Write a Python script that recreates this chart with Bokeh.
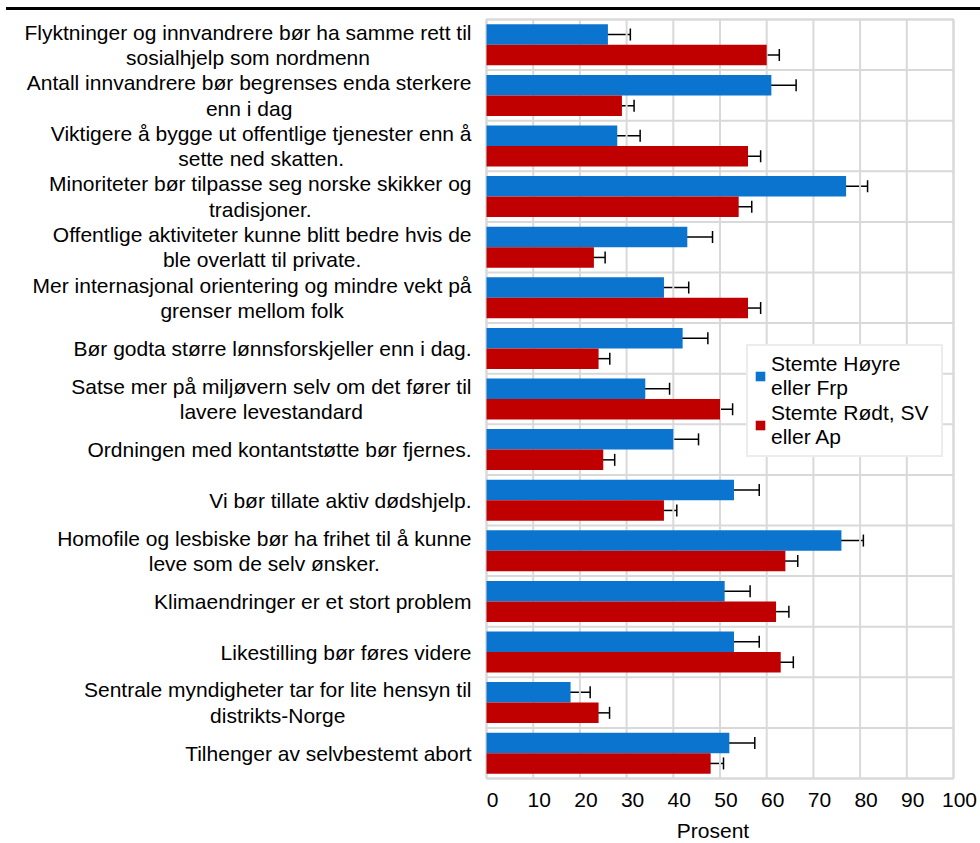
from bokeh.plotting import figure
from bokeh.models import (ColumnDataSource, Range1d, Whisker, TeeHead, Legend,
                          LegendItem, Div)
from bokeh.layouts import column
from bokeh.embed import file_html
from bokeh.resources import INLINE

categories = [
    "Flyktninger og innvandrere bør ha samme rett til\nsosialhjelp som nordmenn",
    "Antall innvandrere bør begrenses enda sterkere\nenn i dag",
    "Viktigere å bygge ut offentlige tjenester enn å\nsette ned skatten.",
    "Minoriteter bør tilpasse seg norske skikker og\ntradisjoner.",
    "Offentlige aktiviteter kunne blitt bedre hvis de\nble overlatt til private.",
    "Mer internasjonal orientering og mindre vekt på\ngrenser mellom folk",
    "Bør godta større lønnsforskjeller enn i dag.",
    "Satse mer på miljøvern selv om det fører til\nlavere levestandard",
    "Ordningen med kontantstøtte bør fjernes.",
    "Vi bør tillate aktiv dødshjelp.",
    "Homofile og lesbiske bør ha frihet til å kunne\nleve som de selv ønsker.",
    "Klimaendringer er et stort problem",
    "Likestilling bør føres videre",
    "Sentrale myndigheter tar for lite hensyn til\ndistrikts-Norge",
    "Tilhenger av selvbestemt abort",
]
hoyre_frp = [26, 61, 28, 77, 43, 38, 42, 34, 40, 53, 76, 51, 53, 18, 52]
hoyre_frp_err = [4.8, 5.3, 4.9, 4.6, 5.4, 5.3, 5.4, 5.2, 5.4, 5.4, 4.7, 5.45, 5.4, 4.2, 5.45]
rodt_sv_ap = [60, 29, 56, 54, 23, 56, 24, 50, 25, 38, 64, 62, 63, 24, 48]
rodt_sv_ap_err = [2.7, 2.6, 2.7, 2.8, 2.4, 2.7, 2.4, 2.7, 2.45, 2.75, 2.65, 2.75, 2.7, 2.35, 2.75]
series_names = ["Stemte Høyre\neller Frp", "Stemte Rødt, SV\neller Ap"]
x_ticks = [0, 10, 20, 30, 40, 50, 60, 70, 80, 90, 100]
x_axis_title = "Prosent"

FONT = "Liberation Sans"
FS = "21px"
BLUE = "#0a74cf"
RED = "#c00000"
GRID = "#d9d9d9"

# canvas layout (pixels): the figure's frame covers the whole canvas, the
# plotting area sits inside it and the labels are drawn in the margin around it
W, H = 980, 833
PLOT_L, PLOT_R, PLOT_T, PLOT_B = 486, 953, 9, 768

n = len(categories)
x_lo, x_hi = x_ticks[0], x_ticks[-1]
kx = (PLOT_R - PLOT_L) / (x_hi - x_lo)
ky = (PLOT_B - PLOT_T) / n
x_range = Range1d(x_lo - PLOT_L / kx, x_hi + (W - PLOT_R) / kx)
y_range = Range1d(n + (H - PLOT_B) / ky, 0 - PLOT_T / ky)

centers = [i + 0.5 for i in range(n)]
half = 0.2025
bar_h = 0.405

src_b = ColumnDataSource(dict(
    y=[c - half for c in centers], v=hoyre_frp,
    lo=[v - e for v, e in zip(hoyre_frp, hoyre_frp_err)],
    hi=[v + e for v, e in zip(hoyre_frp, hoyre_frp_err)]))
src_r = ColumnDataSource(dict(
    y=[c + half for c in centers], v=rodt_sv_ap,
    lo=[v - e for v, e in zip(rodt_sv_ap, rodt_sv_ap_err)],
    hi=[v + e for v, e in zip(rodt_sv_ap, rodt_sv_ap_err)]))

p = figure(frame_width=W, frame_height=H, x_range=x_range, y_range=y_range,
           x_axis_location=None, y_axis_location=None,
           output_backend="svg", toolbar_location=None,
           min_border_left=0, min_border_right=0, min_border_top=0,
           min_border_bottom=0)
p.outline_line_color = None
p.background_fill_color = "white"
p.border_fill_color = "white"
p.xgrid.visible = False
p.ygrid.visible = False

# grid lines and plot border
p.segment(x0=x_ticks, x1=x_ticks, y0=[0] * len(x_ticks), y1=[n] * len(x_ticks),
          line_color=GRID, line_width=2)
p.segment(x0=[x_lo] * (n + 1), x1=[x_hi] * (n + 1), y0=list(range(n + 1)),
          y1=list(range(n + 1)), line_color=GRID, line_width=2)
p.quad(left=[x_lo], right=[x_hi], top=[0], bottom=[n], fill_color=None,
       line_color=GRID, line_width=2)

# category labels (block right-aligned, lines centred)
p.text(x=[x_lo] * n, y=centers, text=categories, x_offset=-15,
       text_font={"value": FONT}, text_font_size=FS, text_color="black",
       text_align="center", text_baseline="middle", anchor="center_right",
       text_line_height=1.1)

# x tick labels
p.text(x=x_ticks, y=[n] * len(x_ticks), text=[str(t) for t in x_ticks],
       x_offset=6, y_offset=14, text_font={"value": FONT}, text_font_size=FS,
       text_color="black", text_align="center", text_baseline="top")

# x axis title
p.text(x=[(x_lo + x_hi) / 2], y=[n], text=[x_axis_title], x_offset=-7, y_offset=40,
       text_font={"value": FONT}, text_font_size=FS, text_color="black",
       text_align="center", text_baseline="top")

rb = p.hbar(y="y", left=0, right="v", height=bar_h, source=src_b,
            fill_color=BLUE, line_color=None)
rr = p.hbar(y="y", left=0, right="v", height=bar_h, source=src_r,
            fill_color=RED, line_color=None)

for src in (src_b, src_r):
    w = Whisker(source=src, base="y", lower="lo", upper="hi", dimension="width",
                line_color="black", line_width=1.5,
                upper_head=TeeHead(size=12, line_color="black", line_width=1.5),
                lower_head=TeeHead(size=12, line_color="black", line_width=1.5))
    p.add_layout(w)

legend = Legend(items=[LegendItem(label=series_names[0], renderers=[rb]),
                       LegendItem(label=series_names[1], renderers=[rr])],
                location=(746, 386), margin=0, padding=6, spacing=1,
                glyph_width=12, glyph_height=12, label_standoff=5, label_width=164,
                label_text_font=FONT, label_text_font_size=FS,
                label_text_line_height=1.1, label_text_color="black",
                border_line_color=GRID, border_line_width=2,
                background_fill_color="white", background_fill_alpha=1)
p.add_layout(legend)

top_rule = Div(width=974, height=3, margin=(7, 0, 0, 6),
               styles={"background-color": "black"})
layout = column(top_rule, p, spacing=0)

open("out.html", "w").write(file_html(layout, INLINE))
